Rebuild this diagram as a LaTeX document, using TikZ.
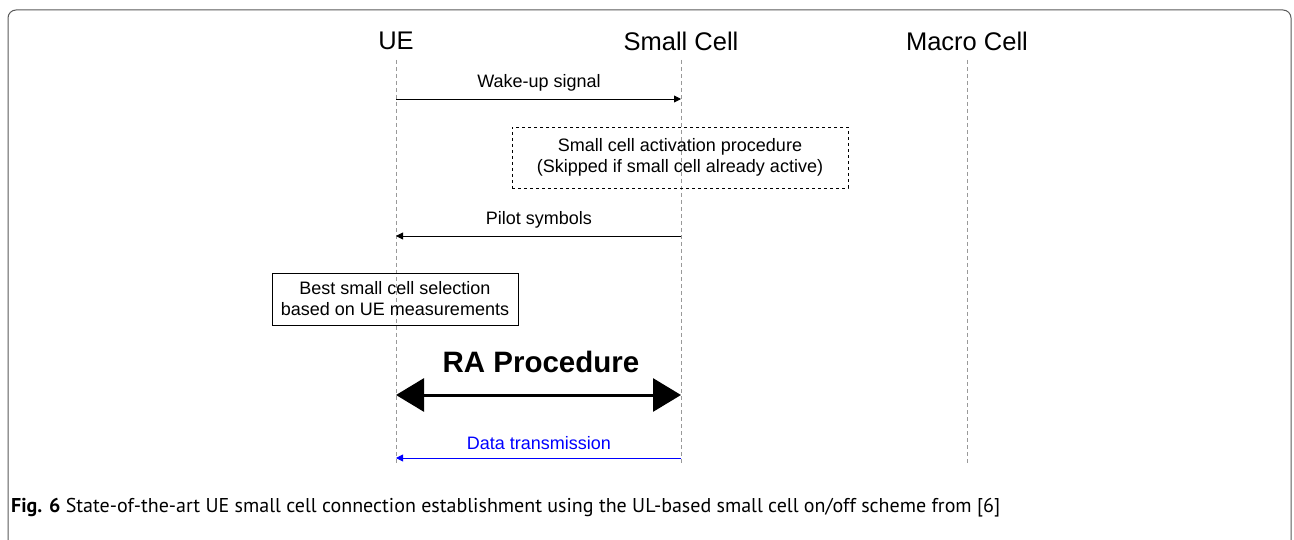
\documentclass[tikz,border=0pt]{standalone}
\usepackage{fontspec}
\setmainfont{Liberation Sans}
\newfontfamily\capfont{PT Sans}
\usetikzlibrary{arrows.meta}
\tikzset{
  life/.style={draw=gray!80, dash pattern=on 4pt off 3pt, line width=0.6pt},
  head/.style={font=\fontsize{25.5}{30}\selectfont, inner sep=0pt},
  msg/.style={line width=0.9pt, -{Triangle[length=7pt,width=7pt]}},
  lbl/.style={font=\fontsize{18}{21}\selectfont, inner sep=0pt},
  boxtxt/.style={font=\fontsize{18}{21}\selectfont, align=center}
}
\begin{document}
\begin{tikzpicture}[x=1pt,y=-1pt]
\useasboundingbox (0,0) rectangle (1294,540);
% frame
\draw[gray!70!black, line width=1pt, rounded corners=8pt] (8,545) -- (8,10) -- (1291,10) -- (1291,545);
% headers
\node[head] (ue) at (396,41) {UE};
\node[head] (sc) at (681,41) {Small Cell};
\node[head] (mc) at (967,41) {Macro Cell};
\coordinate (ueE) at (396,465);
\coordinate (scE) at (681,465);
\coordinate (mcE) at (967,465);
\draw[life] (396,60) -- (ueE);
\draw[life] (681,60) -- (scE);
\draw[life] (967,60) -- (mcE);
% wake-up
\coordinate (w1) at (396,99);
\coordinate (w2) at (681,99);
\draw[msg] (w1) -- (w2);
\node[lbl] (wl) at (539,83) {Wake-up signal};
% dashed box
\node[draw, dashed, line width=0.8pt, minimum width=336pt, minimum height=61pt, boxtxt] (act) at (680,157.5) {Small cell activation procedure\\(Skipped if small cell already active)};
% pilot
\coordinate (p1) at (681,236);
\coordinate (p2) at (396,236);
\draw[msg] (p1) -- (p2);
\node[lbl] (pl) at (539,220) {Pilot symbols};
% best selection
\node[draw, line width=0.8pt, minimum width=246pt, minimum height=52pt, boxtxt] (best) at (395,299) {Best small cell selection\\based on UE measurements};
% RA
\coordinate (r1) at (396,395);
\coordinate (r2) at (681,395);
\draw[line width=3pt, {Triangle[length=28pt,width=33pt]}-{Triangle[length=28pt,width=33pt]}] (r1) -- (r2);
\node[font=\fontsize{29.5}{34}\selectfont\bfseries, inner sep=0pt] (ra) at (541,362) {RA Procedure};
% data
\coordinate (d1) at (681,458);
\coordinate (d2) at (396,458);
\draw[msg, blue] (d1) -- (d2);
\node[lbl, text=blue] (dl) at (539,443) {Data transmission};
% caption
\node[anchor=west, inner sep=0pt, font=\capfont\fontsize{20}{24}\selectfont] (cap) at (11,508) {\textbf{Fig. 6} State-of-the-art UE small cell connection establishment using the UL-based small cell on/off scheme from [6]};
\end{tikzpicture}
\end{document}
